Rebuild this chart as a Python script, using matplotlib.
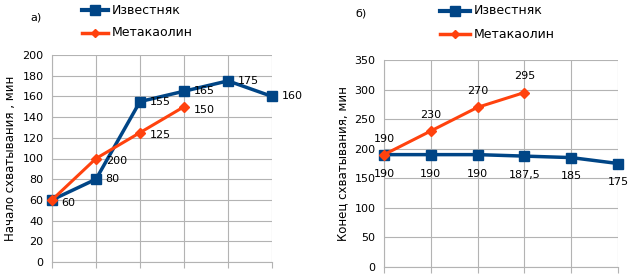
import matplotlib
matplotlib.use("Agg")
import matplotlib.pyplot as plt
import numpy as np

# panel a) - initial setting time
cats = [0, 1, 2, 3, 4, 5]
start_lime = [60, 80, 155, 165, 175, 160]
start_lime_labels = ["", "80", "155", "165", "175", "160"]
start_meta = [60, 100, 125, 150]
start_meta_labels = ["60", "200", "125", "150"]

# panel b) - final setting time
end_lime = [190, 190, 190, 187.5, 185, 175]
end_lime_labels = ["190", "190", "190", "187,5", "185", "175"]
end_meta = [190, 230, 270, 295]
end_meta_labels = ["190", "230", "270", "295"]

series_names = ["Известняк", "Метакаолин"]

BLUE = "#004586"
ORANGE = "#ff420e"
GRID = "#b3b3b3"

plt.rcParams["font.family"] = ["DejaVu Sans"]
W, H = 629, 276
fig = plt.figure(figsize=(W / 100, H / 100), dpi=100)


def axes_px(left, right, top, bottom):
    return fig.add_axes([left / W, 1 - bottom / H, (right - left) / W, (bottom - top) / H])


def style(ax, ymax, ystep, ylabel):
    ax.set_xlim(0, 5)
    ax.set_ylim(0, ymax)
    ax.set_yticks(np.arange(0, ymax + 1, ystep))
    ax.set_xticks(cats)
    ax.set_xticklabels([])
    ax.grid(True, color=GRID, linewidth=0.8)
    ax.set_axisbelow(True)
    for s in ["top", "right"]:
        ax.spines[s].set_visible(False)
    for s in ["left", "bottom"]:
        ax.spines[s].set_color(GRID)
    ax.tick_params(axis="y", length=0, labelsize=8, pad=6)
    ax.tick_params(axis="x", length=4, color=GRID, direction="out")
    ax.set_ylabel(ylabel, fontsize=8.5, labelpad=4)


ax1 = axes_px(52, 272, 55, 262)
style(ax1, 200, 20, "Начало схватывания , мин")
ax1.plot(cats, start_lime, color=BLUE, lw=2.5, marker="s", markersize=7.5, clip_on=False, zorder=3)
ax1.plot(cats[:len(start_meta)], start_meta, color=ORANGE, lw=2.2, marker="D", markersize=5,
         clip_on=False, zorder=4)
for x, y, t in zip(cats, start_lime, start_lime_labels):
    ax1.annotate(t, (x, y), xytext=(7, 0), textcoords="offset points", fontsize=8,
                 va="center", ha="left")
for x, y, t in zip(cats, start_meta, start_meta_labels):
    ax1.annotate(t, (x, y), xytext=(7, -2), textcoords="offset points", fontsize=8,
                 va="center", ha="left")
fig.text(30 / W, 1 - 18 / H, "а)", fontsize=8, va="center")

ax2 = axes_px(384, 618, 60, 267)
style(ax2, 350, 50, "Конец схватывания, мин")
ax2.plot(cats, end_lime, color=BLUE, lw=2.5, marker="s", markersize=7.5, clip_on=False, zorder=3)
ax2.plot(cats[:len(end_meta)], end_meta, color=ORANGE, lw=2.2, marker="D", markersize=5,
         clip_on=False, zorder=4)
for x, y, t in zip(cats, end_lime, end_lime_labels):
    ax2.annotate(t, (x, y), xytext=(0, -10), textcoords="offset points", fontsize=8,
                 va="top", ha="center")
for x, y, t in zip(cats, end_meta, end_meta_labels):
    ax2.annotate(t, (x, y), xytext=(0, 8), textcoords="offset points", fontsize=8,
                 va="bottom", ha="center")
fig.text(355 / W, 1 - 13 / H, "б)", fontsize=8, va="center")

# legends drawn by hand so they sit above the plots like the original
styles = [(BLUE, "s", 7, 3), (ORANGE, "D", 4.5, 2.5)]
for x0, x1, ytop in [(82, 108, 10), (440, 470, 11)]:
    for i, (txt, (col, mk, ms, lw)) in enumerate(zip(series_names, styles)):
        y = 1 - (ytop + i * 23) / H
        fig.add_artist(plt.Line2D([x0 / W, (x0 + x1) / 2 / W, x1 / W], [y, y, y], color=col,
                                  lw=lw, marker=mk, markersize=ms, markevery=[1],
                                  transform=fig.transFigure))
        fig.text((x1 + 4) / W, y, txt, fontsize=9, va="center", ha="left")

fig.savefig("out.png", dpi=100)
